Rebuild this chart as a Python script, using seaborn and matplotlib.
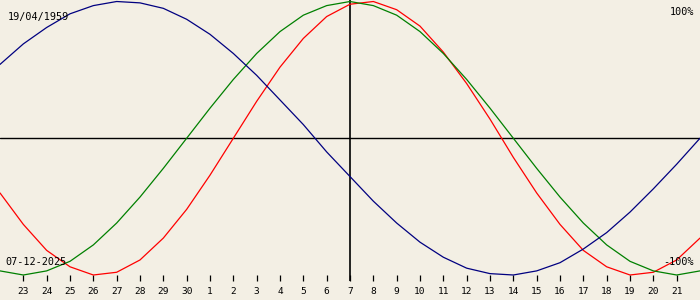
import matplotlib
matplotlib.use("Agg")
import matplotlib.pyplot as plt
import seaborn as sns
import pandas as pd

# Day offsets relative to 07-12-2025 (centre line)
offsets = list(range(-15, 16))

physical = [-0.40, -0.63, -0.82, -0.94, -1.00, -0.98, -0.89, -0.73, -0.52, -0.27,
            0.00, 0.27, 0.52, 0.73, 0.89, 0.98, 1.00, 0.94, 0.82, 0.63, 0.40,
            0.14, -0.14, -0.40, -0.63, -0.82, -0.94, -1.00, -0.98, -0.89, -0.73]
emotional = [-0.97, -1.00, -0.97, -0.90, -0.78, -0.62, -0.43, -0.22,
             0.00, 0.22, 0.43, 0.62, 0.78, 0.90, 0.97, 1.00, 0.97, 0.90, 0.78,
             0.62, 0.43, 0.22, 0.00, -0.22, -0.43, -0.62, -0.78, -0.90, -0.97,
             -1.00, -0.97]
intellectual = [0.54, 0.69, 0.81, 0.91, 0.97, 1.00, 0.99, 0.95, 0.87, 0.76,
                0.62, 0.46, 0.28, 0.10, -0.10, -0.28, -0.46, -0.62, -0.76, -0.87,
                -0.95, -0.99, -1.00, -0.97, -0.91, -0.81, -0.69, -0.54, -0.37,
                -0.19, 0.00]

tick_offsets = list(range(-14, 15))
tick_labels = ["23", "24", "25", "26", "27", "28", "29", "30", "1", "2", "3", "4",
               "5", "6", "7", "8", "9", "10", "11", "12", "13", "14", "15", "16",
               "17", "18", "19", "20", "21"]

birth_text = "19/04/1959"
date_text = "07-12-2025"
top_text = "100%"
bottom_text = "-100%"

bg = "#F3EFE4"
sns.set_theme(style="white")
plt.rcParams["font.family"] = ["DejaVu Sans Mono", "DejaVu Sans"]

df = pd.DataFrame({
    "offset": offsets * 3,
    "value": physical + emotional + intellectual,
    "cycle": ["physical"] * 31 + ["emotional"] * 31 + ["intellectual"] * 31,
})
palette = {"physical": "#FF0000", "emotional": "#008000", "intellectual": "#000080"}

fig = plt.figure(figsize=(7, 3), dpi=100, facecolor=bg)
ax = fig.add_axes([0, 19 / 300, 1, 281 / 300])
ax.set_facecolor(bg)

sns.lineplot(data=df, x="offset", y="value", hue="cycle", palette=palette,
             linewidth=0.9, legend=False, ax=ax, zorder=3)

ax.axhline(0, color="black", linewidth=1.0, zorder=2)
ax.axvline(0, color="black", linewidth=1.2, zorder=2)

ax.set_xlim(-15, 15)
ax.set_ylim(-1.0439, 1.011)
for s in ax.spines.values():
    s.set_visible(False)

ax.set_xticks(tick_offsets)
ax.set_xticklabels(tick_labels)
ax.set_yticks([])
ax.tick_params(axis="x", direction="out", length=4.5, width=0.9, color="black",
               pad=1.5, labelsize=6.8, labelcolor="black", bottom=True)
ax.tick_params(axis="x", which="major")
for t in ax.xaxis.get_major_ticks():
    t.tick1line.set_markersize(4.5)
# ticks placed inside the plotting region
ax.tick_params(axis="x", direction="in", length=4.3)
ax.tick_params(axis="x", pad=4.5)

ax.set_xlabel("")
ax.set_ylabel("")

fig.text(8 / 700, 1 - 17 / 300, birth_text, fontsize=7.3, color="black",
         va="center", ha="left")
fig.text(5 / 700, 1 - 262 / 300, date_text, fontsize=7.3, color="black",
         va="center", ha="left")
fig.text(694 / 700, 1 - 12 / 300, top_text, fontsize=7.3, color="black",
         va="center", ha="right")
fig.text(694 / 700, 1 - 262 / 300, bottom_text, fontsize=7.3, color="black",
         va="center", ha="right")

fig.savefig("out.png", dpi=100, facecolor=bg)
